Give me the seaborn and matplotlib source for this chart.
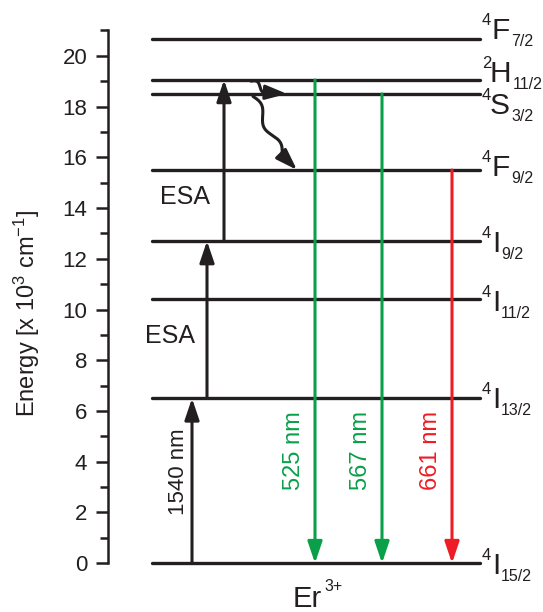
import numpy as np
import pandas as pd
import matplotlib
matplotlib.use("Agg")
import matplotlib.pyplot as plt
import matplotlib.transforms as mtransforms
import seaborn as sns

sns.set_style("ticks")
plt.rcParams['font.family'] = ['Liberation Sans', 'DejaVu Sans']
plt.rcParams['mathtext.fontset'] = 'custom'
plt.rcParams['mathtext.rm'] = 'Liberation Sans'
plt.rcParams['mathtext.default'] = 'regular'

INK = '#231f20'

# energy levels of Er3+ (x 10^3 cm^-1)
levels = ['4I15/2', '4I13/2', '4I11/2', '4I9/2', '4F9/2', '4S3/2', '2H11/2', '4F7/2']
lab_sup = ['4', '4', '4', '4', '4', '4', '2', '4']
lab_main = ['I', 'I', 'I', 'I', 'F', 'S', 'H', 'F']
lab_sub = ['15/2', '13/2', '11/2', '9/2', '9/2', '3/2', '11/2', '7/2']
energies = [0.0, 6.5, 10.4, 12.7, 15.5, 18.5, 19.05, 20.65]
E = dict(zip(levels, energies))

# transitions
up_arrows = [('4I15/2', '4I13/2'), ('4I13/2', '4I9/2'), ('4I9/2', '2H11/2')]
up_labels = ['1540 nm', 'ESA', 'ESA']
down_arrows = [('2H11/2', '4I15/2'), ('4S3/2', '4I15/2'), ('4F9/2', '4I15/2')]
down_labels = ['525 nm', '567 nm', '661 nm']
down_colors = ['#0aa04a', '#0aa04a', '#ee1c25']
relax = [('2H11/2', '4S3/2'), ('4S3/2', '4F9/2')]

fig = plt.figure(figsize=(5.43, 6.12), dpi=100)
ax = fig.add_axes([108/543, 0.0673, 435/543, 0.8954])

# level lines via seaborn
x0, x1 = 44, 372
df = pd.DataFrame({
    'level': np.repeat(levels, 2),
    'x': [x0, x1] * len(levels),
    'E': np.repeat(energies, 2),
})
sns.lineplot(data=df, x='x', y='E', units='level', estimator=None,
             color=INK, lw=2.4, ax=ax, legend=False)

ax.set_xlim(0, 435)
ax.set_ylim(-0.3, 21.3)
fig.canvas.draw()
renderer = fig.canvas.get_renderer()


def off(dx, dy):
    return mtransforms.offset_copy(ax.transData, fig=fig, x=dx, y=dy, units='dots')


# term labels: baseline of the main letter below the line (pixels)
base_off = [11, 10, 12, 11, 6, 20, 2, 0]
for sp, mn, sb, e, bo in zip(lab_sup, lab_main, lab_sub, energies, base_off):
    ax.text(x1, e, sp, fontsize=12, va='baseline', ha='left', color=INK,
            transform=off(2, -bo + 14))
    dxm = 12 if mn in 'IF' else 10
    t = ax.text(x1, e, mn, fontsize=21.5, va='baseline', ha='left', color=INK,
                transform=off(dxm, -bo))
    ext = t.get_window_extent(renderer)
    ax_x = ax.transData.transform((x1, e))[0]
    ax.text(x1, e, sb, fontsize=11.5, va='baseline', ha='left', color=INK,
            transform=off(ext.x1 - ax_x + 1, -bo - 7))

arrow_kw = dict(arrowstyle='-|>,head_length=0.65,head_width=0.22', mutation_scale=20,
                lw=2.2, shrinkA=0, shrinkB=0)

# upward arrows
up_x = [84, 99, 116]
for (a, b), xx in zip(up_arrows, up_x):
    ax.annotate('', xy=(xx, E[b]), xytext=(xx, E[a]),
                arrowprops=dict(color=INK, **arrow_kw))
ax.text(70, 3.6, up_labels[0], rotation=90, fontsize=16, ha='center', va='center', color=INK)
ax.text(62, 8.95, up_labels[1], fontsize=18, ha='center', va='center', color=INK)
ax.text(77, 14.45, up_labels[2], fontsize=18, ha='center', va='center', color=INK)

# downward emission arrows
down_x = [207, 274, 344]
for (a, b), xx, lab, c in zip(down_arrows, down_x, down_labels, down_colors):
    ax.annotate('', xy=(xx, E[b]), xytext=(xx, E[a]),
                arrowprops=dict(color=c, **arrow_kw))
    ax.text(xx - 21, 4.45, lab, rotation=90, fontsize=17, ha='center', va='center', color=c)


# wavy non-radiative relaxation arrows: wiggle from p0 to pm (display space),
# then a straight arrowhead segment from pm to p1
def wavy(ax, p0, pm, p1, amp, nwaves):
    T = ax.transData
    d0 = T.transform(p0)
    dm = T.transform(pm)
    v = dm - d0
    L = np.hypot(*v)
    u = v / L
    nrm = np.array([-u[1], u[0]])
    s = np.linspace(0, L, 200)
    w = amp * np.sin(2 * np.pi * nwaves * s / L)
    pts = d0 + np.outer(s, u) + np.outer(w, nrm)
    data = T.inverted().transform(pts)
    ax.plot(data[:, 0], data[:, 1], color=INK, lw=2.2, solid_capstyle='round')
    ax.annotate('', xy=p1, xytext=tuple(data[-1]),
                arrowprops=dict(color=INK, **arrow_kw))


(a, b), (c, d) = relax
wavy(ax, (143, E[a] - 0.05), (161, E[b] + 0.05), (179, E[b]), 3.0, 1.0)
wavy(ax, (145, E[c] - 0.1), (174, E[d] + 0.6), (189, E[d]), 4.0, 1.5)

# axes styling
sns.despine(ax=ax, bottom=True)
ax.spines['left'].set_bounds(0, 21)
ax.spines['left'].set_linewidth(1.8)
ax.spines['left'].set_color(INK)
ax.set_xticks([])
ax.set_yticks(np.arange(0, 21, 2))
ax.set_yticks(np.arange(1, 22, 2), minor=True)
ax.tick_params(axis='y', which='major', length=9, width=1.8, labelsize=16,
               direction='out', pad=6, colors=INK)
ax.tick_params(axis='y', which='minor', length=6, width=1.8, direction='out', colors=INK)
ax.set_ylabel(r'Energy [x 10$^3$ cm$^{-1}$]', fontsize=17, color=INK)
ax.yaxis.set_label_coords(-0.152, 0.469)
ax.set_xlabel('')

# ion label
er = fig.text(293/543, 5/612, 'Er', fontsize=21, ha='left', va='baseline', color=INK)
ext = er.get_window_extent(renderer)
fig.text((ext.x1 + 2)/543, 21/612, '3+', fontsize=11.5, ha='left', va='baseline', color=INK)

fig.savefig('out.png', dpi=100)
